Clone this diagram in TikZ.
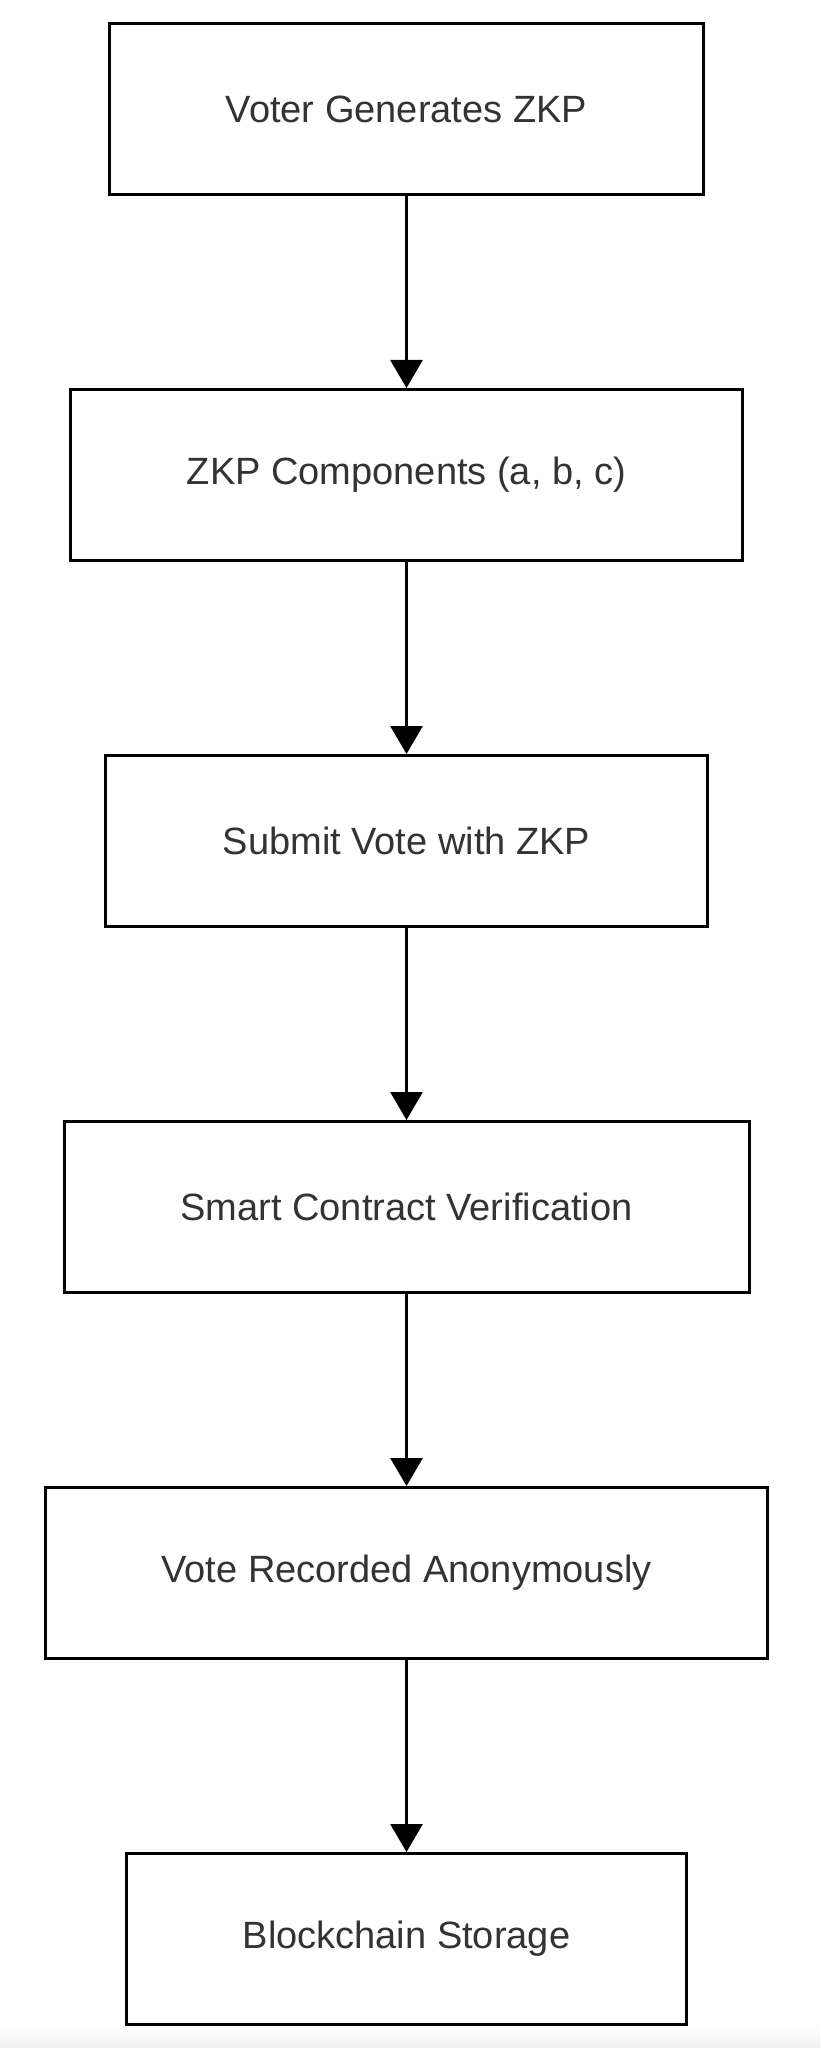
\documentclass[tikz,border=0pt]{standalone}
\usepackage{fontspec}
\setmainfont{Liberation Sans}
\usetikzlibrary{
  arrows.meta,
  positioning,  % Function "of" (e.g. [below=of x])
}
\definecolor{txtgray}{HTML}{333333}
\def\mybheight{85.5pt}
\def\myndist{96pt}
\tikzset{
  font=\fontsize{19pt}{23pt}\selectfont,
  >={Triangle[width=16pt,length=14pt]},
  my step/.style={
    draw=black,
    fill=white,
    text=txtgray,
    line width=1.5pt,
    minimum height=\mybheight,
    inner sep=0pt,
    rectangle
  },
  flow/.style={
    line width=1.5pt,
    every node/.style={my step},
    node distance=\myndist
  }
}
\begin{document}
\begin{tikzpicture}[x=0.5pt,y=-0.5pt,flow]
% page and faint bottom band
\fill[white] (0,0) rectangle (820,2048);
\shade[top color=white,bottom color=black!6,draw=none] (0,2026) rectangle (820,2048);
\useasboundingbox (0,0) rectangle (820,2048);
\node[minimum width=297pt]   (gen)             at (406.5,109) {Voter Generates ZKP};
\node[minimum width=336pt]   (comp)  [below=of gen]   {ZKP Components (a, b, c)};
\node[minimum width=301pt]   (sub)   [below=of comp]  {Submit Vote with ZKP};
\node[minimum width=342.5pt] (ver)   [below=of sub]   {Smart Contract Verification};
\node[minimum width=361pt]   (rec)   [below=of ver]   {Vote Recorded Anonymously};
\node[minimum width=280pt]   (store) [below=of rec]   {Blockchain Storage};
\path[->] (gen)  edge (comp)
          (comp) edge (sub)
          (sub)  edge (ver)
          (ver)  edge (rec)
          (rec)  edge (store);
\end{tikzpicture}
\end{document}
